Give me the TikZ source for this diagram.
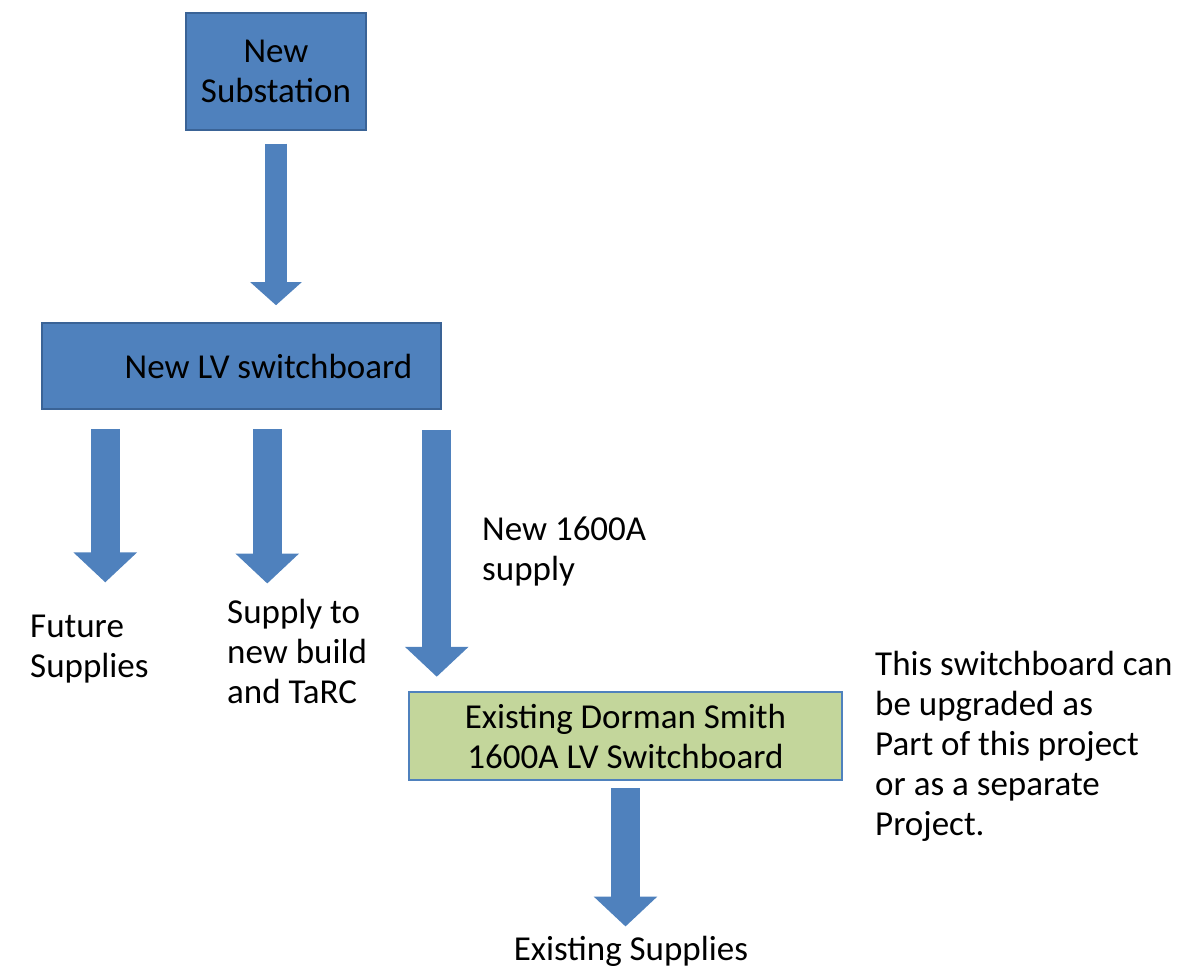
\documentclass[tikz,border=0pt]{standalone}
\usepackage{fontspec}
\setmainfont{Carlito}
\usetikzlibrary{arrows.meta,positioning}
\definecolor{boxblue}{HTML}{4F81BD}
\definecolor{edgeblue}{HTML}{3A6396}
\definecolor{boxgreen}{HTML}{C3D69B}
\tikzset{txt/.style={font=\fontsize{35}{40}\selectfont, inner sep=0pt, align=left, text=black}, bluebox/.style={txt, draw=edgeblue, line width=1.5pt, fill=boxblue, align=center}, greenbox/.style={txt, draw=boxblue, line width=2.5pt, fill=boxgreen, align=center}, fat/.style={draw=boxblue, line width=29pt, -{Triangle[width=62pt,length=30pt]}}, thinfat/.style={draw=boxblue, line width=22pt, -{Triangle[width=50pt,length=23pt]}}}

\begin{document}
\begin{tikzpicture}[x=1pt,y=1pt]
    \useasboundingbox (0,0) rectangle (1199,-973);
    \node[bluebox, minimum width=180pt, minimum height=117pt] (sub) at (276,-71.5) {New\\Substation};
    \node[bluebox, minimum width=399pt, minimum height=86pt] (lv) at (241.5,-366) {};
    \node[txt] (lvtext) at (268.5,-366) {New LV switchboard};
    \node[greenbox, minimum width=433pt, minimum height=88pt] (ds) at (625.5,-736) {Existing Dorman Smith\\1600A LV Switchboard};
    \node[txt, anchor=base west] (fut) at (30,-677) {Future\\Supplies};
    \node[txt, anchor=base west] (bld) at (227,-703) {Supply to\\new build\\and TaRC};
    \node[txt, anchor=base west] (sup) at (482,-580) {New 1600A\\supply};
    \node[txt, anchor=base west] (note) at (875,-835) {This switchboard can\\be upgraded as\\Part of this project\\or as a separate\\Project.};
    \node[txt, anchor=base] (ex) at (631,-960) {Existing Supplies};
    \coordinate (ta) at ([xshift=64pt]lv.south west);
    \coordinate (tb) at ([xshift=226pt]lv.south west);
    \coordinate (tc) at ([xshift=395.5pt]lv.south west);
    \draw[thinfat, shorten <=13pt, shorten >=17pt] (sub.south) -- (sub.south |- lv.north);
    \draw[fat, shorten <=19pt, shorten >=32pt] (ta) -- (ta |- fut.north);
    \draw[fat, shorten <=19pt, shorten >=15pt] (tb) -- (tb |- bld.north);
    \draw[fat, shorten <=20pt, shorten >=14pt] (tc) -- (tc |- ds.north);
    \draw[fat, shorten <=7pt, shorten >=9pt] (ds.south) -- (ds.south |- ex.north);
\end{tikzpicture}
\end{document}
